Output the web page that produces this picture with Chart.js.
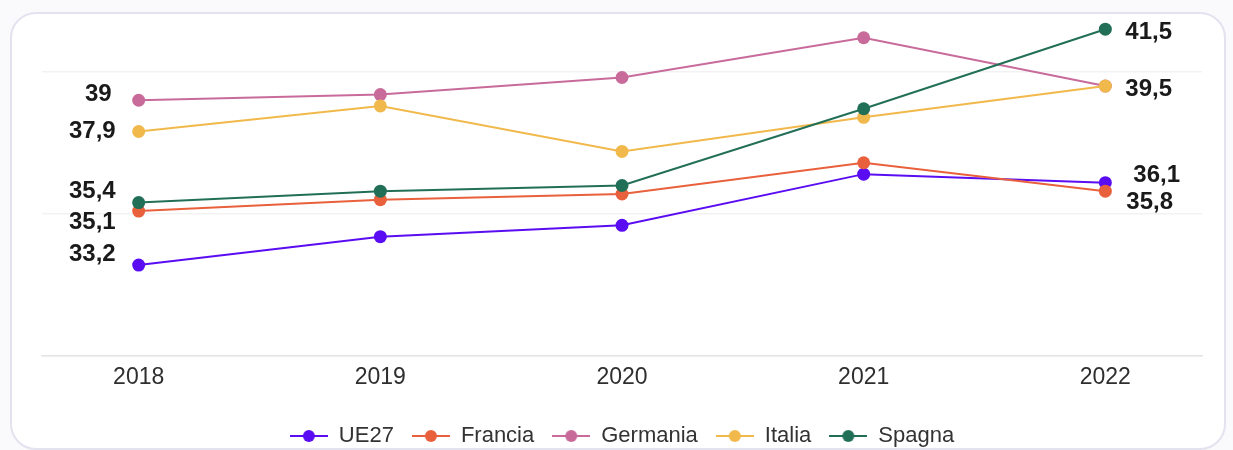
<!DOCTYPE html>
<html>
<head>
<meta charset="utf-8">
<script src="https://cdn.jsdelivr.net/npm/chart.js@4.4.0/dist/chart.umd.min.js"></script>
<style>
  html, body { margin: 0; padding: 0; background: #fafafc; overflow: hidden; }
  #card { position: absolute; left: 10px; top: 12px; width: 1212px; height: 434px;
          border: 2px solid #e3e2ef; border-radius: 26px; background: #fff; }
  #status { position: absolute; left: 0; top: 0; }
</style>
</head>
<body>
<div id="card"></div>
<canvas id="status" width="1233" height="460"></canvas>
<script>
// dati
var years = [2018, 2019, 2020, 2021, 2022];
var ue27 = [33.2, 34.2, 34.6, 36.4, 36.1];
var francia = [35.1, 35.5, 35.7, 36.8, 35.8];
var germania = [39.0, 39.2, 39.8, 41.2, 39.5];
var italia = [37.9, 38.8, 37.2, 38.4, 39.5];
var spagna = [35.4, 35.8, 36.0, 38.7, 41.5];
var yTicks = [30, 35, 40];

// which series get a value label at the first / last year
var leftLabels = ['UE27', 'Francia', 'Germania', 'Italia', 'Spagna'];
var rightLabels = ['UE27', 'Francia', 'Italia', 'Spagna'];

// label nudges (px) from the point
var leftNudge = { UE27: [-23, -11], Francia: [-23, 11], Germania: [-27, -6], Italia: [-23, 0], Spagna: [-23, -11] };
var rightNudge = { UE27: [28, -7], Francia: [21, 11], Italia: [20, 3], Spagna: [20, 3] };

var FONT = '"Liberation Sans", Arial, Helvetica, sans-serif';

function pts(values) {
  return years.map(function (yr, i) { return { x: yr, y: values[i] }; });
}

function serie(name, values, color, order) {
  return {
    label: name,
    data: pts(values),
    borderColor: color,
    backgroundColor: color,
    borderWidth: 2,
    pointRadius: 6.5,
    pointHoverRadius: 6.5,
    pointBorderWidth: 0,
    tension: 0,
    order: order   // later series drawn on top
  };
}

function marker(color) {
  var cv = document.createElement('canvas');
  cv.width = 38; cv.height = 14;
  var g = cv.getContext('2d');
  g.strokeStyle = color; g.lineWidth = 2;
  g.beginPath(); g.moveTo(0, 7); g.lineTo(38, 7); g.stroke();
  g.fillStyle = color;
  g.beginPath(); g.arc(19, 7, 6, 0, Math.PI * 2); g.fill();
  return cv;
}

var endLabels = {
  id: 'endLabels',
  afterDatasetsDraw: function (chart) {
    var c = chart.ctx;
    c.save();
    c.font = 'bold 24px ' + FONT;
    c.fillStyle = '#1a1a1a';
    c.textBaseline = 'middle';
    chart.data.datasets.forEach(function (ds, i) {
      var meta = chart.getDatasetMeta(i);
      var n = meta.data.length;
      if (leftLabels.indexOf(ds.label) >= 0) {
        var p = meta.data[0], o = leftNudge[ds.label];
        c.textAlign = 'right';
        c.fillText(ds.data[0].y.toLocaleString('it-IT'), p.x + o[0], p.y + o[1]);
      }
      if (rightLabels.indexOf(ds.label) >= 0) {
        var q = meta.data[n - 1], r = rightNudge[ds.label];
        c.textAlign = 'left';
        c.fillText(ds.data[n - 1].y.toLocaleString('it-IT'), q.x + r[0], q.y + r[1]);
      }
    });
    c.restore();
  }
};

var ctx = document.getElementById('status');
var chart = new Chart(ctx, {
  type: 'line',
  data: {
    datasets: [
      serie('UE27', ue27, '#5a0cf2', 5),
      serie('Francia', francia, '#e9603d', 4),
      serie('Germania', germania, '#c86b9b', 3),
      serie('Italia', italia, '#f1b94b', 2),
      serie('Spagna', spagna, '#226f58', 1)
    ]
  },
  options: {
    responsive: false,
    animation: false,
    layout: { padding: { left: 42, right: 31, top: 15, bottom: 3 } },
    scales: {
      x: {
        type: 'linear',
        min: 2017.6,
        max: 2022.4,
        afterBuildTicks: function (scale) {
          scale.ticks = years.map(function (y) { return { value: y }; });
        },
        afterFit: function (scale) { scale.height = 51; },
        grid: { display: false },
        border: { display: true, color: '#e4e4e6', width: 1.5 },
        ticks: {
          padding: 0,
          color: '#2e2e2e',
          font: { family: FONT, size: 23 },
          callback: function (v) { return String(v); }
        }
      },
      y: {
        min: 30,
        max: 42,
        afterBuildTicks: function (scale) {
          scale.ticks = yTicks.map(function (v) { return { value: v }; });
        },
        grid: { color: 'rgba(0,0,0,0.05)', lineWidth: 1.5, drawTicks: false },
        border: { display: false },
        ticks: { display: false }
      }
    },
    plugins: {
      tooltip: { enabled: false },
      legend: {
        position: 'bottom',
        labels: {
          usePointStyle: true,
          pointStyleWidth: 38,
          padding: 18,
          color: '#333',
          font: { family: FONT, size: 22 },
          generateLabels: function (chart) {
            return chart.data.datasets.map(function (ds, i) {
              return {
                text: ds.label,
                pointStyle: marker(ds.borderColor),
                fillStyle: ds.borderColor,
                strokeStyle: ds.borderColor,
                fontColor: '#333',
                lineWidth: 0,
                hidden: false,
                datasetIndex: i
              };
            });
          }
        }
      }
    }
  },
  plugins: [endLabels]
});
</script>
</body>
</html>
